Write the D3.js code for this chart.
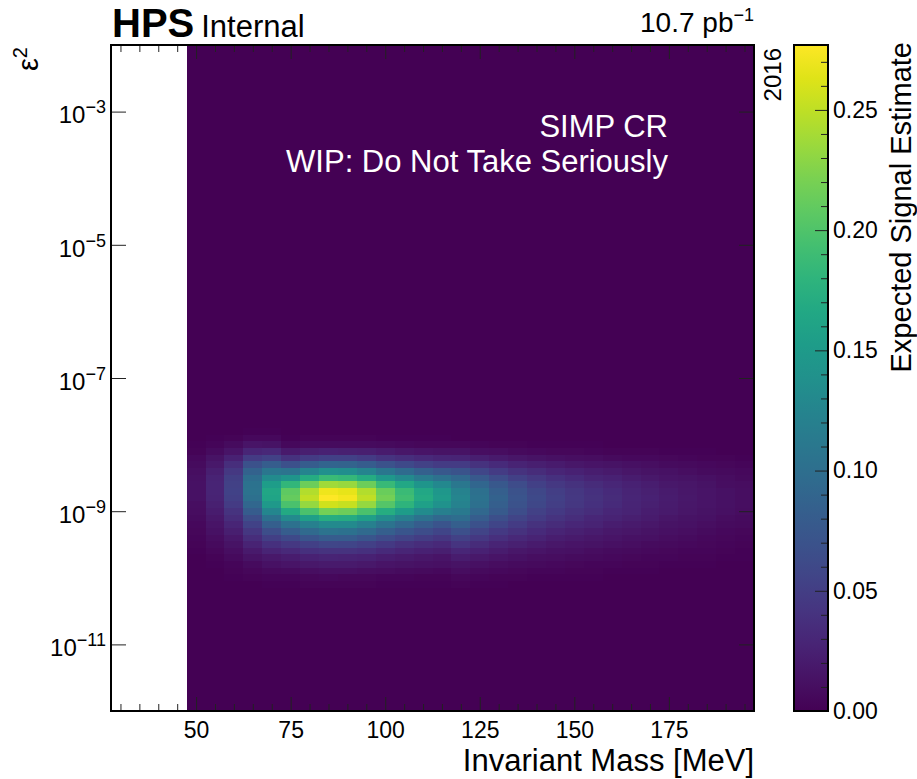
<!DOCTYPE html>
<html lang="en">
<head>
<meta charset="UTF-8">
<title>SIMP CR expected signal</title>
<script src="https://d3js.org/d3.v7.min.js"></script>
<style>
  body { margin: 0; background: #fff; }
  text { font-family: 'Liberation Sans', Arial, sans-serif; fill: #000; }
</style>
</head>
<body>
<div id="chart"></div>
<script>
// mass bin centres [MeV], bins are 5 MeV wide
const massBins = [50, 55, 60, 65, 70, 75, 80, 85, 90, 95, 100, 105, 110, 115, 120,
                  125, 130, 135, 140, 145, 150, 155, 160, 165, 170, 175, 180, 185, 190, 195];

// log10(eps^2) row centres, rows are 0.1 wide (everything outside is 0)
const epsExp = [-7.7, -7.8, -7.9, -8.0, -8.1, -8.2, -8.3, -8.4, -8.5, -8.6, -8.7, -8.8, -8.9,
                -9.0, -9.1, -9.2, -9.3, -9.4, -9.5, -9.6, -9.7, -9.8, -9.9, -10.0, -10.1, -10.2];

// expected signal in units of 1e-3, one row per mass bin, one value per epsExp row
const signalMilli = [
  [0,0,1,2,3,6,8,10,11,12,12,12,10,9,8,6,5,4,3,2,1,1,1,0,0,0],
  [0,1,2,4,8,13,18,23,26,28,28,27,24,21,18,15,12,9,7,5,3,2,1,1,0,0],
  [0,1,3,8,15,25,36,45,51,54,55,53,48,41,35,29,23,18,14,10,7,4,3,2,1,0],
  [0,2,6,15,29,48,69,86,98,104,105,101,91,79,66,55,44,35,26,19,13,8,5,3,1,0],
  [0,2,6,14,31,54,81,109,133,153,164,162,149,127,103,83,66,51,38,28,18,12,7,4,2,0],
  [0,0,2,6,19,40,68,106,144,182,208,212,197,167,131,102,81,61,45,32,21,15,8,4,2,0],
  [0,0,3,8,23,48,80,125,170,215,245,250,233,198,155,120,95,73,53,38,25,18,10,5,3,0],
  [0,0,3,8,25,52,88,138,188,237,270,276,257,218,171,132,105,80,58,41,28,19,11,6,3,0],
  [0,0,3,8,24,52,87,136,185,234,267,272,253,215,169,131,103,79,57,41,27,19,11,5,3,0],
  [0,0,3,8,23,48,80,125,170,215,245,250,233,198,155,120,95,73,53,38,25,18,10,5,3,0],
  [0,0,2,7,20,41,70,109,148,187,214,218,203,172,135,105,83,63,46,33,22,15,9,4,2,0],
  [0,0,2,6,17,36,61,96,131,165,188,192,179,152,119,92,73,56,40,29,19,13,8,4,2,0],
  [0,0,2,5,15,32,54,84,114,144,165,168,156,133,104,81,64,49,35,25,17,12,7,3,2,0],
  [0,0,2,5,14,29,48,75,102,129,147,150,140,119,93,72,57,44,32,23,15,11,6,3,2,0],
  [0,0,1,5,13,28,48,71,92,110,122,126,122,112,98,83,68,54,42,30,21,14,9,5,3,1],
  [0,0,1,4,10,23,40,58,76,90,101,104,101,93,81,69,56,45,34,25,18,11,7,4,2,1],
  [0,0,1,3,9,19,33,48,63,75,83,86,83,77,67,57,46,37,28,21,15,9,6,3,2,1],
  [0,0,1,3,7,16,27,40,53,63,70,72,70,64,56,48,39,31,24,17,12,8,5,3,1,1],
  [0,0,1,2,6,13,23,34,45,53,59,61,59,54,48,40,33,26,20,15,10,7,4,2,1,1],
  [0,0,1,2,5,11,20,29,38,45,50,52,50,46,41,34,28,22,17,12,9,6,4,2,1,1],
  [0,0,0,2,5,10,17,25,33,39,44,45,44,40,35,30,24,19,15,11,8,5,3,2,1,0],
  [0,0,0,2,4,9,15,22,28,34,38,39,38,35,30,26,21,17,13,9,7,4,3,2,1,0],
  [0,0,0,1,3,7,13,19,25,30,33,34,33,30,27,22,18,15,11,8,6,4,2,1,1,0],
  [0,0,0,1,3,6,11,16,21,25,28,29,28,26,23,19,16,12,10,7,5,3,2,1,1,0],
  [0,0,0,1,3,6,10,14,18,22,24,25,24,22,20,17,14,11,8,6,4,3,2,1,1,0],
  [0,0,0,1,2,5,8,12,15,18,20,21,20,19,16,14,11,9,7,5,4,2,1,1,0,0],
  [0,0,0,1,2,4,7,10,13,16,17,18,17,16,14,12,10,8,6,4,3,2,1,1,0,0],
  [0,0,0,1,2,3,6,8,11,13,15,15,15,13,12,10,8,6,5,4,3,2,1,1,0,0],
  [0,0,0,0,1,3,5,7,9,10,12,12,12,11,9,8,6,5,4,3,2,1,1,0,0,0],
  [0,0,0,0,1,2,4,6,7,9,10,10,10,9,8,7,5,4,3,2,2,1,1,0,0,0]
];

const xTicks = [50, 75, 100, 125, 150, 175];
const yTickExp = [-3, -5, -7, -9, -11];
const zTicks = [0, 0.05, 0.10, 0.15, 0.20, 0.25];
const zMax = 0.277;

const W = 917, H = 779;
const plot = { left: 111, right: 754, top: 45, bottom: 711 };
const binHalf = 2.5, rowHalf = 0.05;

const svg = d3.select('#chart').append('svg')
  .attr('width', W).attr('height', H);

const x = d3.scaleLinear().domain([27.5, 197.5]).range([plot.left, plot.right]);
const y = d3.scaleLog().domain([1e-12, 1e-2]).range([plot.bottom, plot.top]);
const color = d3.scaleSequential(d3.interpolateViridis).domain([0, zMax]);

// heatmap: filled background for the populated mass range, then the cells
const heat = svg.append('g').attr('shape-rendering', 'crispEdges');
heat.append('rect')
  .attr('x', x(massBins[0] - binHalf))
  .attr('y', plot.top)
  .attr('width', x(massBins[massBins.length - 1] + binHalf) - x(massBins[0] - binHalf))
  .attr('height', plot.bottom - plot.top)
  .attr('fill', color(0));

const cells = [];
massBins.forEach((m, i) => {
  epsExp.forEach((e, j) => {
    const v = signalMilli[i][j] / 1000;
    if (v > 0) cells.push({ m, e, v });
  });
});

heat.selectAll('rect.cell')
  .data(cells)
  .enter()
  .append('rect')
  .attr('class', 'cell')
  .attr('x', d => x(d.m - binHalf))
  .attr('width', d => x(d.m + binHalf) - x(d.m - binHalf))
  .attr('y', d => y(Math.pow(10, d.e + rowHalf)))
  .attr('height', d => y(Math.pow(10, d.e - rowHalf)) - y(Math.pow(10, d.e + rowHalf)))
  .attr('fill', d => color(d.v));

// axes, ticks point inwards
const minorX = d3.range(30, 197, 5).filter(v => xTicks.indexOf(v) < 0);

function styleAxis(g) {
  g.select('.domain').remove();
  g.selectAll('.tick line').attr('stroke', '#222').attr('stroke-width', 1);
}

svg.append('g')
  .attr('transform', `translate(0,${plot.bottom})`)
  .call(d3.axisBottom(x).tickValues(xTicks).tickSize(-14).tickPadding(11).tickFormat(d3.format('d')))
  .call(styleAxis)
  .selectAll('text').attr('font-size', 23).attr('fill', '#000');

svg.append('g')
  .attr('transform', `translate(0,${plot.bottom})`)
  .call(d3.axisBottom(x).tickValues(minorX).tickSize(-7).tickFormat(''))
  .call(styleAxis);

svg.append('g')
  .attr('transform', `translate(0,${plot.top})`)
  .call(d3.axisTop(x).tickValues(xTicks).tickSize(-14).tickFormat(''))
  .call(styleAxis);

svg.append('g')
  .attr('transform', `translate(0,${plot.top})`)
  .call(d3.axisTop(x).tickValues(minorX).tickSize(-7).tickFormat(''))
  .call(styleAxis);

const yLeft = svg.append('g')
  .attr('transform', `translate(${plot.left},0)`)
  .call(d3.axisLeft(y).tickValues(yTickExp.map(e => Math.pow(10, e))).tickSize(-15).tickPadding(5).tickFormat(() => ''))
  .call(styleAxis);

yLeft.selectAll('.tick text')
  .attr('font-size', 24)
  .attr('dy', '0.47em')
  .each(function (d, i) {
    const t = d3.select(this);
    t.append('tspan').text('10');
    t.append('tspan').attr('dy', -10).attr('font-size', 18).text('\u2212' + Math.abs(yTickExp[i]));
  });

svg.append('g')
  .attr('transform', `translate(${plot.right},0)`)
  .call(d3.axisRight(y).tickValues(yTickExp.map(e => Math.pow(10, e))).tickSize(-15).tickFormat(''))
  .call(styleAxis);

// frame
svg.append('rect')
  .attr('x', plot.left).attr('y', plot.top)
  .attr('width', plot.right - plot.left).attr('height', plot.bottom - plot.top)
  .attr('fill', 'none').attr('stroke', '#000').attr('stroke-width', 2);

// colour bar
const cb = { left: 794, right: 828 };
const cy = d3.scaleLinear().domain([0, zMax]).range([plot.bottom, plot.top]);

const grad = svg.append('defs').append('linearGradient')
  .attr('id', 'viridisGrad')
  .attr('x1', 0).attr('y1', 1).attr('x2', 0).attr('y2', 0);
d3.range(0, 1.0001, 0.05).forEach(t => {
  grad.append('stop').attr('offset', t).attr('stop-color', d3.interpolateViridis(t));
});

svg.append('rect')
  .attr('x', cb.left).attr('y', plot.top)
  .attr('width', cb.right - cb.left).attr('height', plot.bottom - plot.top)
  .attr('fill', 'url(#viridisGrad)');

const minorZ = d3.range(1, 28).map(k => k / 100).filter(v => Math.round(v * 100) % 5 !== 0);

svg.append('g')
  .attr('transform', `translate(${cb.right},0)`)
  .call(d3.axisRight(cy).tickValues(zTicks).tickSize(-13).tickPadding(5).tickFormat(d3.format('.2f')))
  .call(styleAxis)
  .selectAll('text').attr('font-size', 23).attr('fill', '#000');

svg.append('g')
  .attr('transform', `translate(${cb.right},0)`)
  .call(d3.axisRight(cy).tickValues(minorZ).tickSize(-7).tickFormat(''))
  .call(styleAxis);

svg.append('rect')
  .attr('x', cb.left).attr('y', plot.top)
  .attr('width', cb.right - cb.left).attr('height', plot.bottom - plot.top)
  .attr('fill', 'none').attr('stroke', '#000').attr('stroke-width', 2);

// labels
svg.append('text')
  .attr('transform', `translate(911,${plot.top - 3}) rotate(-90)`)
  .attr('text-anchor', 'end')
  .attr('font-size', 29)
  .text('Expected Signal Estimate');

svg.append('text')
  .attr('x', plot.right).attr('y', 771)
  .attr('text-anchor', 'end')
  .attr('font-size', 31)
  .text('Invariant Mass [MeV]');

const yLab = svg.append('text')
  .attr('transform', `translate(38,${plot.top + 2}) rotate(-90)`)
  .attr('text-anchor', 'end')
  .attr('font-size', 29);
yLab.append('tspan').text('\u03b5');
yLab.append('tspan').attr('dy', -11).attr('font-size', 20).text('2');

const head = svg.append('text').attr('x', plot.left + 1).attr('y', 37);
head.append('tspan').attr('font-weight', 'bold').attr('font-size', 40).text('HPS');
head.append('tspan').attr('dx', 7).attr('font-size', 31).text('Internal');

const lumi = svg.append('text')
  .attr('x', plot.right).attr('y', 32)
  .attr('text-anchor', 'end')
  .attr('font-size', 28);
lumi.append('tspan').text('10.7 pb');
lumi.append('tspan').attr('dy', -11).attr('font-size', 18).text('\u22121');

svg.append('text')
  .attr('transform', `translate(781,${plot.top + 3}) rotate(-90)`)
  .attr('text-anchor', 'end')
  .attr('font-size', 24)
  .text('2016');

svg.append('text')
  .attr('x', 668).attr('y', 137)
  .attr('text-anchor', 'end')
  .attr('font-size', 31)
  .style('fill', '#fff')
  .text('SIMP CR');

svg.append('text')
  .attr('x', 668).attr('y', 172)
  .attr('text-anchor', 'end')
  .attr('font-size', 31)
  .style('fill', '#fff')
  .text('WIP: Do Not Take Seriously');
</script>
</body>
</html>
